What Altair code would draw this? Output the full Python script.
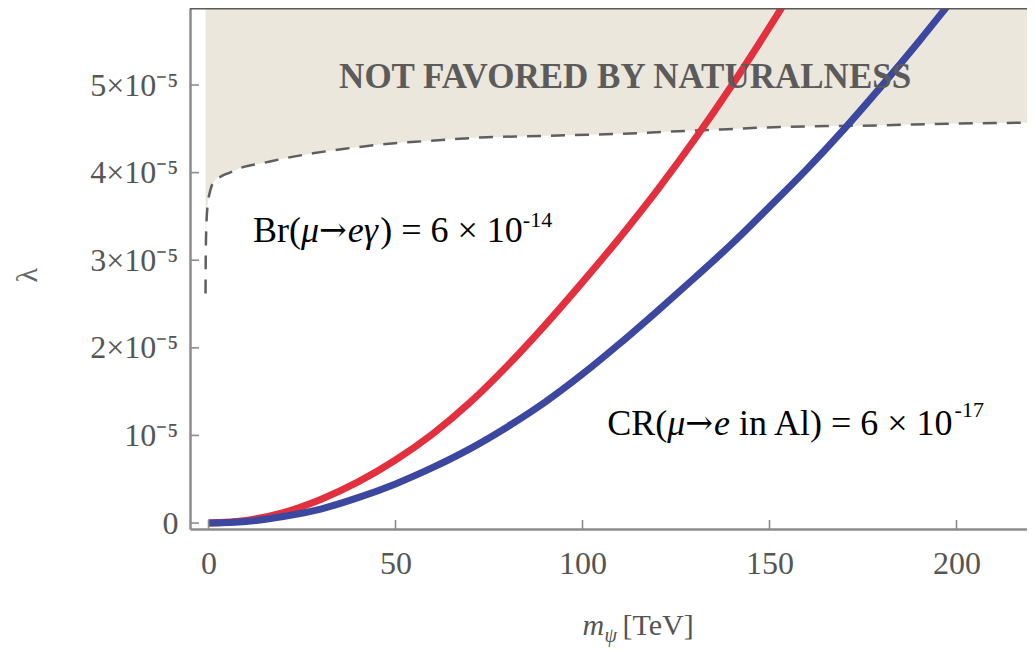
import altair as alt
import pandas as pd

# ---------------- data (lambda in units of 1e-5, m in TeV) ----------------
red_m = [0, 10, 20, 30, 40, 50, 60, 70, 80, 90, 100, 110, 120, 130, 140, 150, 160]
red_lam = [0, 0.03, 0.12, 0.27, 0.47, 0.72, 1.02, 1.38, 1.80, 2.26, 2.75, 3.26, 3.80, 4.38, 5.00, 5.66, 6.35]

blue_m = [0, 10, 20, 30, 40, 50, 60, 70, 80, 90, 100, 110, 120, 130, 140, 150, 160, 170, 180, 190, 200, 210]
blue_lam = [0, 0.018, 0.075, 0.16, 0.29, 0.447, 0.635, 0.85, 1.10, 1.38, 1.70, 2.05, 2.42, 2.80, 3.19,
            3.61, 4.04, 4.50, 4.99, 5.50, 6.03, 6.55]

bound_m = [-0.8, -0.7, -0.3, 0.5, 1.5, 3.5, 5.7, 9, 14.6, 20, 27.9, 36, 45.9, 58, 72.6, 90, 108, 130,
           152.8, 180, 200, 221]
bound_lam = [2.62, 3.2, 3.6, 3.8, 3.9, 3.96, 4.00, 4.06, 4.11, 4.16, 4.22, 4.27, 4.32, 4.36, 4.40, 4.42,
             4.44, 4.48, 4.52, 4.54, 4.56, 4.57]

x_ticks = [0, 50, 100, 150, 200]
y_ticks = [0, 1, 2, 3, 4, 5]
y_tick_labels = ["0", "10⁻⁵", "2×10⁻⁵", "3×10⁻⁵", "4×10⁻⁵", "5×10⁻⁵"]

X_DOMAIN = [-4.95, 218.85]
Y_DOMAIN = [-0.068, 5.879]

W, H = 837, 521
SERIF = "Liberation Serif"
GRAY_TXT = "#555555"
AXIS_GRAY = "#8c8c8c"

xs = alt.Scale(domain=X_DOMAIN, nice=False, zero=False)
ys = alt.Scale(domain=Y_DOMAIN, nice=False, zero=False)

label_expr = " : ".join(
    f"datum.value == {v} ? '{t}'" for v, t in zip(y_ticks, y_tick_labels)
) + " : ''"

x_axis = alt.Axis(values=x_ticks, title=None, grid=False, ticks=False, tickSize=0, labelFont=SERIF,
                  labelFontSize=32, labelColor=GRAY_TXT, labelPadding=19,
                  domainColor=AXIS_GRAY, domainWidth=2.5, labelFlush=False)
y_axis = alt.Axis(values=y_ticks, title=None, grid=False, ticks=False, tickSize=0, labelFont=SERIF,
                  labelFontSize=32, labelColor=GRAY_TXT, labelPadding=12,
                  labelExpr=label_expr, domainColor=AXIS_GRAY, domainWidth=2.5,
                  labelFlush=False, labelLimit=300)


def X(field):
    return alt.X(field, scale=xs, axis=x_axis)


def Y(field):
    return alt.Y(field, scale=ys, axis=y_axis)


bound_df = pd.DataFrame({"m": bound_m, "lam": bound_lam})
red_df = pd.DataFrame({"m": red_m, "lam": red_lam})
blue_df = pd.DataFrame({"m": blue_m, "lam": blue_lam})

shade = alt.Chart(bound_df).mark_area(color="#ebe7dc", clip=True, interpolate="monotone").encode(
    x=X("m:Q"), y=Y("lam:Q"), y2=alt.datum(Y_DOMAIN[1]))

dash = alt.Chart(bound_df).mark_line(color="#5f5f5f", strokeWidth=2.5, strokeDash=[14, 10],
                                     clip=True, interpolate="monotone").encode(
    x=X("m:Q"), y=Y("lam:Q"))

red = alt.Chart(red_df).mark_line(color="#e3303f", strokeWidth=7, clip=True,
                                  interpolate="monotone").encode(x=X("m:Q"), y=Y("lam:Q"))

blue = alt.Chart(blue_df).mark_line(color="#3c48a0", strokeWidth=7, clip=True,
                                    interpolate="monotone").encode(x=X("m:Q"), y=Y("lam:Q"))

ytick_marks = alt.Chart(pd.DataFrame({"v": y_ticks})).mark_rule(color=AXIS_GRAY, strokeWidth=1.6).encode(
    y=Y("v:Q"), x=alt.value(0), x2=alt.value(9))
xtick_marks = alt.Chart(pd.DataFrame({"v": x_ticks})).mark_rule(color=AXIS_GRAY, strokeWidth=1.6).encode(
    x=X("v:Q"), y=alt.value(H), y2=alt.value(H - 9))

top_border = alt.Chart(pd.DataFrame({"a": [0]})).mark_rule(color="#5a5a5a", strokeWidth=3).encode(
    y=alt.value(0), x=alt.value(0), x2=alt.value(W))


def text_layer(s, m, lam, dx=0, dy=0, size=36, style="normal", weight="normal",
               color="black", align="left", angle=0, baseline="alphabetic", font=SERIF):
    return alt.Chart(pd.DataFrame({"m": [m], "lam": [lam], "t": [s]})).mark_text(
        font=font, fontSize=size, fontStyle=style, fontWeight=weight, color=color,
        align=align, baseline=baseline, dx=dx, dy=dy, angle=angle).encode(
        x=X("m:Q"), y=Y("lam:Q"), text="t:N")


layers = [shade, dash, red, blue, ytick_marks, xtick_marks, top_border]

# NOT FAVORED label
layers.append(text_layer("NOT FAVORED BY NATURALNESS", 111.4, 4.966, size=35, weight="bold",
                         color="#5b5b5b", align="center"))

# em-widths (Times-metric) used to chain the mixed-style pieces of each label
FS = 36
ARROW_FONT = "DejaVu Serif"
br_pieces = ["Br(", "μ", "→", "eγ", ") = 6 × 10", "-14"]
br_styles = ["normal", "italic", "normal", "italic", "normal", "normal"]
br_fonts = [SERIF, SERIF, ARROW_FONT, SERIF, SERIF, SERIF]
br_em = [1.333, 0.50, 0.80, 0.90, 3.961, 0]
br_dy = [0, 0, -1, 0, 0, -15]
br_size = [FS, FS, 33, FS, FS, 22]
dx = 0.0
for s, st, f, em, dy, sz in zip(br_pieces, br_styles, br_fonts, br_em, br_dy, br_size):
    layers.append(text_layer(s, 11.9, 3.208, dx=dx, dy=dy, size=sz, style=st, font=f))
    dx += em * FS

cr_pieces = ["CR(", "μ", "→", "e", "in Al) = 6 × 10", "-17"]
cr_styles = ["normal", "italic", "normal", "italic", "normal", "normal"]
cr_fonts = [SERIF, SERIF, ARROW_FONT, SERIF, SERIF, SERIF]
cr_em = [1.667, 0.50, 0.80, 0.444 + 0.25, 5.989, 0]
cr_dy = [0, 0, -1, 0, 0, -18]
cr_size = [FS, FS, 33, FS, FS, 22]
dx = 0.0
for s, st, f, em, dy, sz in zip(cr_pieces, cr_styles, cr_fonts, cr_em, cr_dy, cr_size):
    layers.append(text_layer(s, 106.6, 1.005, dx=dx, dy=dy, size=sz, style=st, font=f))
    dx += em * FS

# axis titles
layers.append(text_layer("λ", -48.3, 2.83, size=30, color="#666666", align="center",
                         angle=270, baseline="middle"))
xt_pieces = ["m", "ψ", "[TeV]"]
xt_styles = ["italic", "italic", "normal"]
xt_dx = [0, 22, 40]
xt_dy = [0, 7, 0]
xt_size = [30, 20, 30]
for s, st, d, dy, sz in zip(xt_pieces, xt_styles, xt_dx, xt_dy, xt_size):
    layers.append(text_layer(s, 100.0, -1.28, dx=d, dy=dy, size=sz, style=st, color=GRAY_TXT))

chart = alt.layer(*layers).properties(
    width=W, height=H,
    autosize=alt.AutoSizeParams(type="none"),
    padding={"left": 182, "top": 0, "right": 0, "bottom": 122},
    background="white",
).configure_view(stroke=None)

chart.save("out.html", embed_options={"renderer": "svg", "actions": False})
